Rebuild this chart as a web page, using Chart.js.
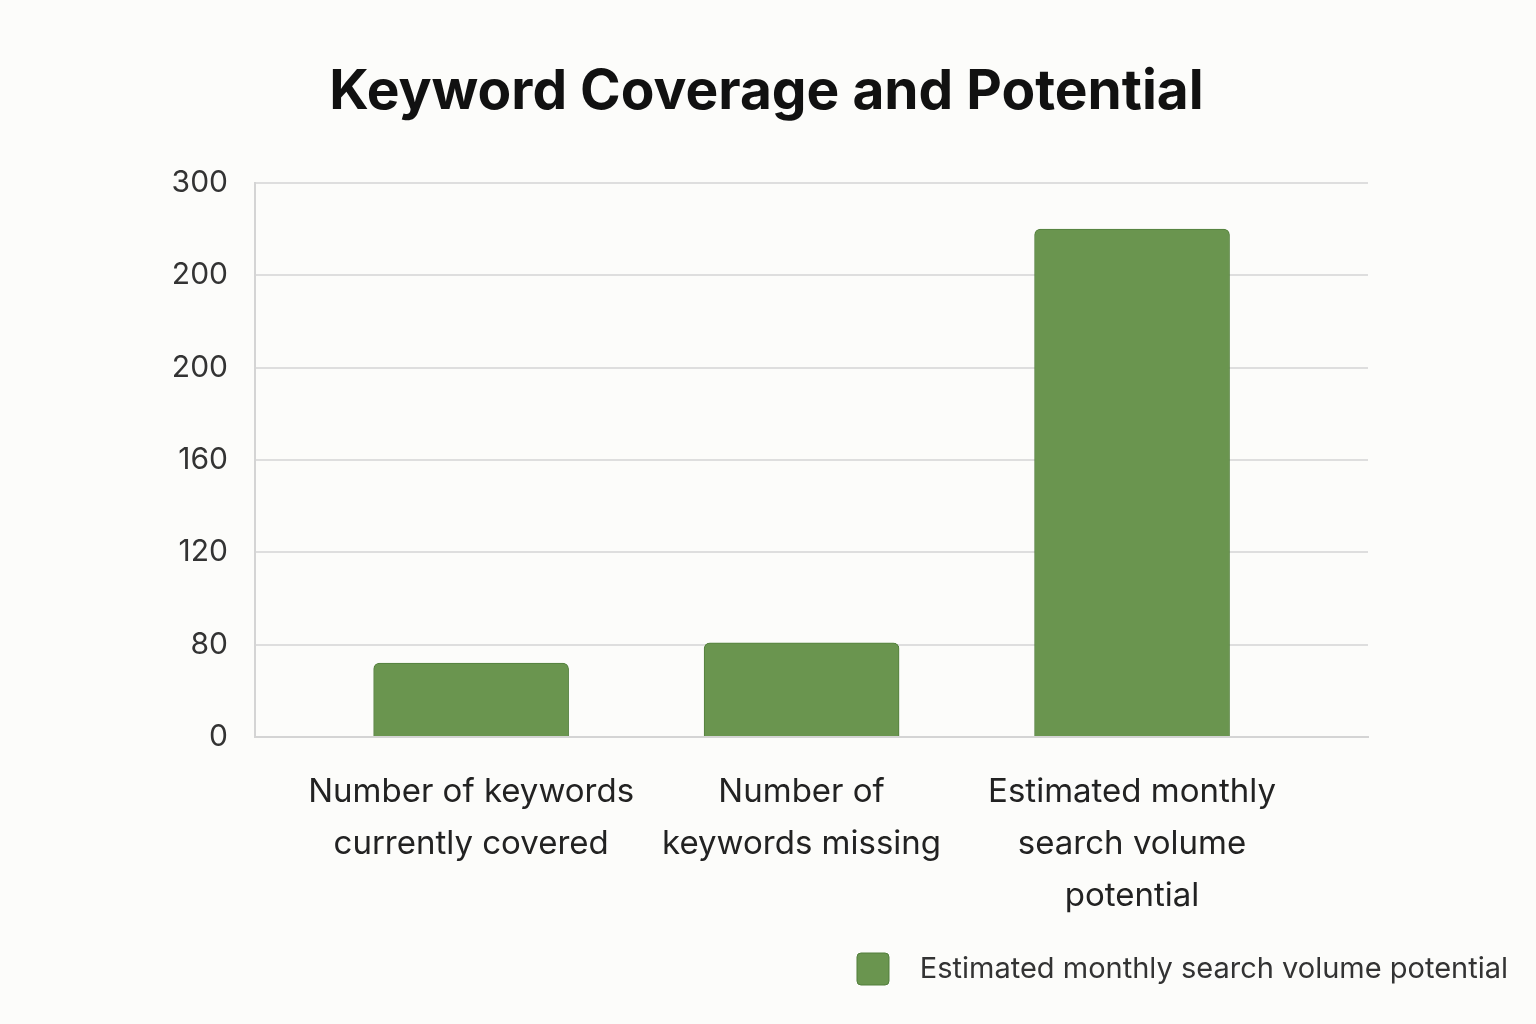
<!DOCTYPE html>
<html>
<head>
<meta charset="utf-8">
<script src="https://cdn.jsdelivr.net/npm/chart.js@4"></script>
<style>
  html, body { margin: 0; padding: 0; background: #fcfcfa; }
  #wrap { width: 1536px; height: 1024px; }
</style>
</head>
<body>
<div id="wrap"><canvas id="bars"></canvas></div>
<script>
const categories = [
  ['Number of keywords', 'currently covered'],
  ['Number of', 'keywords missing'],
  ['Estimated monthly', 'search volume', 'potential']
];
const values = [40, 51, 275];
const yTickLabels = ['0', '80', '120', '160', '200', '200', '300'];
const seriesName = 'Estimated monthly search volume potential';

const green = '#6a954f';
const greenEdge = '#527f3c';

const ctx = document.getElementById('bars');

new Chart(ctx, {
  type: 'bar',
  data: {
    datasets: [{
      label: seriesName,
      data: categories.map((c, i) => ({ x: i, y: values[i] })),
      backgroundColor: green,
      borderColor: greenEdge,
      borderWidth: 1,
      borderRadius: 6,
      barThickness: 195
    }]
  },
  options: {
    responsive: true,
    maintainAspectRatio: false,
    animation: false,
    devicePixelRatio: 1,
    layout: { padding: { left: 15, right: 18, top: 0, bottom: 29 } },
    plugins: {
      title: {
        display: true,
        text: 'Keyword Coverage and Potential',
        color: '#111',
        font: { family: 'Inter', size: 55, weight: 'bold' },
        padding: { top: 59, bottom: 58 }
      },
      legend: {
        position: 'bottom',
        align: 'end',
        labels: {
          color: '#333',
          font: { family: 'Inter', size: 29 },
          boxWidth: 32,
          boxHeight: 32,
          useBorderRadius: true,
          borderRadius: 4,
          padding: 10,
          // two leading spaces widen the gap between swatch and text
          generateLabels: chart => Chart.defaults.plugins.legend.labels.generateLabels(chart)
            .map(l => Object.assign(l, { text: '  ' + l.text }))
        }
      },
      tooltip: { enabled: false }
    },
    scales: {
      x: {
        type: 'linear',
        offset: false,
        min: -0.654,
        max: 2.714,
        grid: { display: false, drawTicks: false },
        border: { display: true, color: '#d4d4d4', width: 2 },
        afterBuildTicks: s => { s.ticks = categories.map((c, i) => ({ value: i })); },
        afterFit: s => { s.height = 206; },
        ticks: {
          autoSkip: false,
          maxRotation: 0,
          padding: 29,
          color: '#222',
          font: { family: 'Inter', size: 33, lineHeight: 1.58 },
          callback: v => categories[v] || ''
        }
      },
      y: {
        min: 0,
        max: 300,
        grid: { color: '#dedede', lineWidth: 2, drawTicks: false },
        border: { display: true, color: '#d4d4d4', width: 2 },
        afterFit: s => { s.width = 240; },
        ticks: {
          stepSize: 50,
          padding: 27,
          color: '#333',
          font: { family: 'Inter', size: 30 },
          callback: (v, i) => yTickLabels[i]
        }
      },
      yRight: {
        position: 'right',
        min: 0,
        max: 300,
        grid: { display: false },
        border: { display: false },
        ticks: { display: false },
        afterFit: s => { s.width = 150; }
      }
    }
  }
});
</script>
</body>
</html>
